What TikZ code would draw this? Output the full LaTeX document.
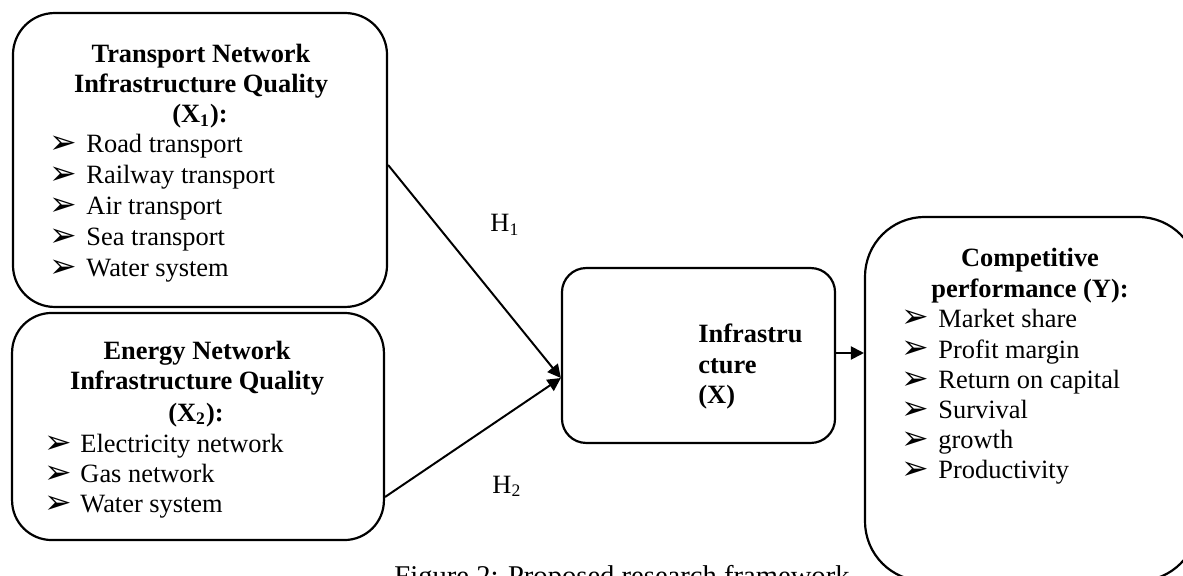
\documentclass[tikz,border=0pt]{standalone}
\usepackage{fontspec}
\setmainfont{Liberation Serif}
\newfontfamily\dejavu{DejaVu Sans}
\usetikzlibrary{arrows.meta,calc}
\begin{document}
\begin{tikzpicture}[x=0.4545pt,y=-0.4545pt,
  box/.style={draw, line width=1pt, rectangle, inner sep=0},
  ttl/.style={font=\fontsize{12}{14}\selectfont\bfseries, inner sep=0, anchor=base},
  ttlw/.style={font=\fontsize{12}{14}\selectfont\bfseries, inner sep=0, anchor=base west},
  itm/.style={font=\fontsize{12}{14}\selectfont, inner sep=0, anchor=base west},
  bul/.style={font=\dejavu\fontsize{15}{16}\selectfont, inner sep=0, anchor=base west},
  conn/.style={line width=0.9pt},
  tip/.style={-{Triangle[length=6pt,width=6pt]}}]
\path[use as bounding box] (0,0) rectangle (1183,576);
\clip (0,0) rectangle (1183,576);
% boxes
\node[box, rounded corners=19pt, minimum width=170pt, minimum height=133.6pt] (b1) at (200,160) {};
\node[box, rounded corners=18pt, minimum width=169pt, minimum height=103.2pt] (b2) at (198,426.5) {};
\node[box, rounded corners=11pt, minimum width=124.1pt, minimum height=79.5pt] (inf) at (698.5,355.5) {};
\node[box, rounded corners=27pt, minimum width=151.3pt, minimum height=165.4pt] (yb) at (1031.5,399) {};
% box 1 text
\node[ttl] (t1a) at (201,63) {Transport Network};
\node[ttl] (t1b) at (201,93) {Infrastructure Quality};
\node[ttl] (t1c) at (200,123) {(X\textsubscript{1}):};
\foreach \i/\y/\t in {1/153/Road transport, 2/184/Railway transport, 3/215/Air transport, 4/246/Sea transport, 5/277/Water system}{
  \node[bul] (a1\i) at (49,\y+1) {➢};
  \node[itm] (l1\i) at (86,\y) {\t};
}
% box 2 text
\node[ttl] (t2a) at (197,360) {Energy Network};
\node[ttl] (t2b) at (197,390) {Infrastructure Quality};
\node[ttl] (t2c) at (196,421) {(X\textsubscript{2}):};
\foreach \i/\y/\t in {1/452/Electricity network, 2/482/Gas network, 3/512/Water system}{
  \node[bul] (a2\i) at (44,\y+1) {➢};
  \node[itm] (l2\i) at (80,\y) {\t};
}
% infrastructure text
\node[ttlw] (ia) at (698,342) {Infrastru};
\node[ttlw] (ib) at (698,373) {cture};
\node[ttlw] (ic) at (698,403) {(X)};
% Y box text
\node[ttl] (ya) at (1030,267) {Competitive};
\node[ttl] (yb2) at (1030,298) {performance (Y):};
\foreach \i/\y/\t in {1/327/Market share, 2/358/Profit margin, 3/388/Return on capital, 4/418/Survival, 5/448/growth, 6/478/Productivity}{
  \node[bul] (a3\i) at (901,\y+1) {➢};
  \node[itm] (l3\i) at (938,\y) {\t};
}
% hypotheses labels
\node[itm] (h1) at (490,232) {H\textsubscript{1}};
\node[itm] (h2) at (492,493) {H\textsubscript{2}};
% caption
\node[font=\fontsize{13}{15}\selectfont, inner sep=0, anchor=base] (cap) at (622,585) {Figure 2: Proposed research framework};
% connectors
\coordinate (s1) at ($(b1.east)+(0,5)$);
\coordinate (s2) at ($(b2.east)+(0,70.5)$);
\coordinate (jt) at ($(inf.west)+(0,22.5)$);
\coordinate (o1) at ($(inf.east)+(0,-2.5)$);
\coordinate (o2) at ($(yb.west|-o1)$);
\draw[conn, tip] (s1) -- (jt);
\draw[conn, tip] (s2) -- (jt);
\draw[conn, tip] (o1) -- (o2);
\end{tikzpicture}
\end{document}
